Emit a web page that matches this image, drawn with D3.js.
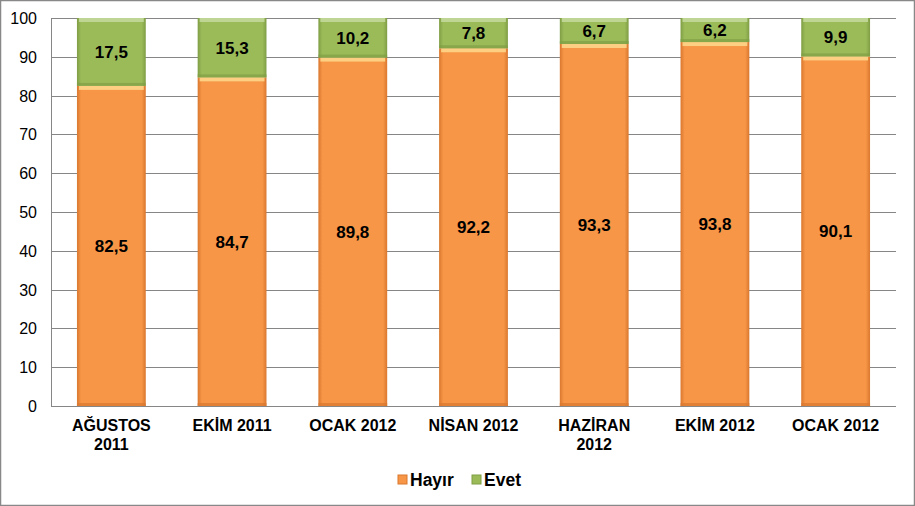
<!DOCTYPE html>
<html><head><meta charset="utf-8">
<script src="https://cdn.jsdelivr.net/npm/d3@7/dist/d3.min.js"></script>
<style>body{margin:0;background:#fff}svg{display:block}</style>
</head><body><svg id="c" width="915" height="506"></svg>
<script>
const categories = [["AĞUSTOS","2011"],["EKİM 2011"],["OCAK 2012"],["NİSAN 2012"],["HAZİRAN","2012"],["EKİM 2012"],["OCAK 2012"]];
const hayir = [82.5,84.7,89.8,92.2,93.3,93.8,90.1];
const evet = [17.5,15.3,10.2,7.8,6.7,6.2,9.9];
const yTicks = [0,10,20,30,40,50,60,70,80,90,100];
const seriesNames = ["Hayır","Evet"];
const colors = {Hayır:"#F79646", Evet:"#9BBB59"};
const dark = {Hayır:"#D9782F", Evet:"#7F9E45"};
const light = {Hayır:"#FDD58A", Evet:"#C2D89A"};

const svg = d3.select("#c");
svg.append("rect").attr("x",0.5).attr("y",0.5).attr("width",914).attr("height",505).attr("fill","#fff").attr("stroke","#888").attr("stroke-width",1.5);

const x = d3.scaleBand().domain(d3.range(categories.length)).range([51,896]).paddingInner(0.43).paddingOuter(0.215);
const y = d3.scaleLinear().domain([0,100]).range([406,18]);

const defs = svg.append("defs");
seriesNames.forEach((s,i)=>{
  const g = defs.append("linearGradient").attr("id","g"+i).attr("x1",0).attr("x2",1).attr("y1",0).attr("y2",0);
  g.append("stop").attr("offset","0%").attr("stop-color",dark[s]);
  g.append("stop").attr("offset","6%").attr("stop-color",colors[s]);
  g.append("stop").attr("offset","94%").attr("stop-color",colors[s]);
  g.append("stop").attr("offset","100%").attr("stop-color",dark[s]);
});

svg.append("g").selectAll("line").data(yTicks).join("line")
  .attr("x1",51).attr("x2",896).attr("y1",d=>Math.round(y(d))+0.5).attr("y2",d=>Math.round(y(d))+0.5)
  .attr("stroke","#868686").attr("stroke-width",1);
svg.append("line").attr("x1",51.5).attr("x2",51.5).attr("y1",18).attr("y2",406).attr("stroke","#868686");

svg.append("g").selectAll("text").data(yTicks).join("text")
  .attr("x",37).attr("y",d=>y(d)+6).attr("text-anchor","end")
  .attr("font-family","Liberation Sans, Arial, sans-serif").attr("font-size",16).attr("fill","#000")
  .text(d=>d);

const stack = d3.stack().keys(seriesNames)(categories.map((c,i)=>({Hayır:hayir[i],Evet:evet[i]})));
stack.forEach((layer,li)=>{
  const s = seriesNames[li];
  const g = svg.append("g");
  layer.forEach((d,i)=>{
    const x0 = x(i), w = x.bandwidth();
    const yt = y(d[1]), yb = y(d[0]);
    g.append("rect").attr("x",x0).attr("y",yt).attr("width",w).attr("height",yb-yt).attr("fill","url(#g"+li+")");
    g.append("rect").attr("x",x0+2).attr("y",yt).attr("width",w-4).attr("height",4).attr("fill",light[s]).attr("opacity",0.9);
    g.append("rect").attr("x",x0).attr("y",yb-3).attr("width",w).attr("height",3).attr("fill",dark[s]).attr("opacity",0.7);
    g.append("text").attr("x",x0+w/2).attr("y",(yt+yb)/2+6).attr("text-anchor","middle")
      .attr("font-family","Liberation Sans, Arial, sans-serif").attr("font-weight","bold").attr("font-size",17).attr("fill","#000")
      .text(String(d.data[s]).replace(".",","));
  });
});

categories.forEach((lines,i)=>{
  const t = svg.append("text").attr("x",x(i)+x.bandwidth()/2).attr("y",431).attr("text-anchor","middle")
    .attr("font-family","Liberation Sans, Arial, sans-serif").attr("font-weight","bold").attr("font-size",16).attr("fill","#000");
  lines.forEach((l,j)=>t.append("tspan").attr("x",x(i)+x.bandwidth()/2).attr("dy",j?19:0).text(l));
});

const lg = svg.append("g");
const items = [{n:"Hayır",x:398},{n:"Evet",x:472}];
items.forEach(it=>{
  lg.append("rect").attr("x",it.x).attr("y",475).attr("width",9).attr("height",9).attr("fill",colors[it.n]).attr("stroke",dark[it.n]).attr("stroke-width",1);
  lg.append("text").attr("x",it.x+12).attr("y",486).attr("font-family","Liberation Sans, Arial, sans-serif").attr("font-weight","bold").attr("font-size",17.5).attr("fill","#000").text(it.n);
});
</script></body></html>
